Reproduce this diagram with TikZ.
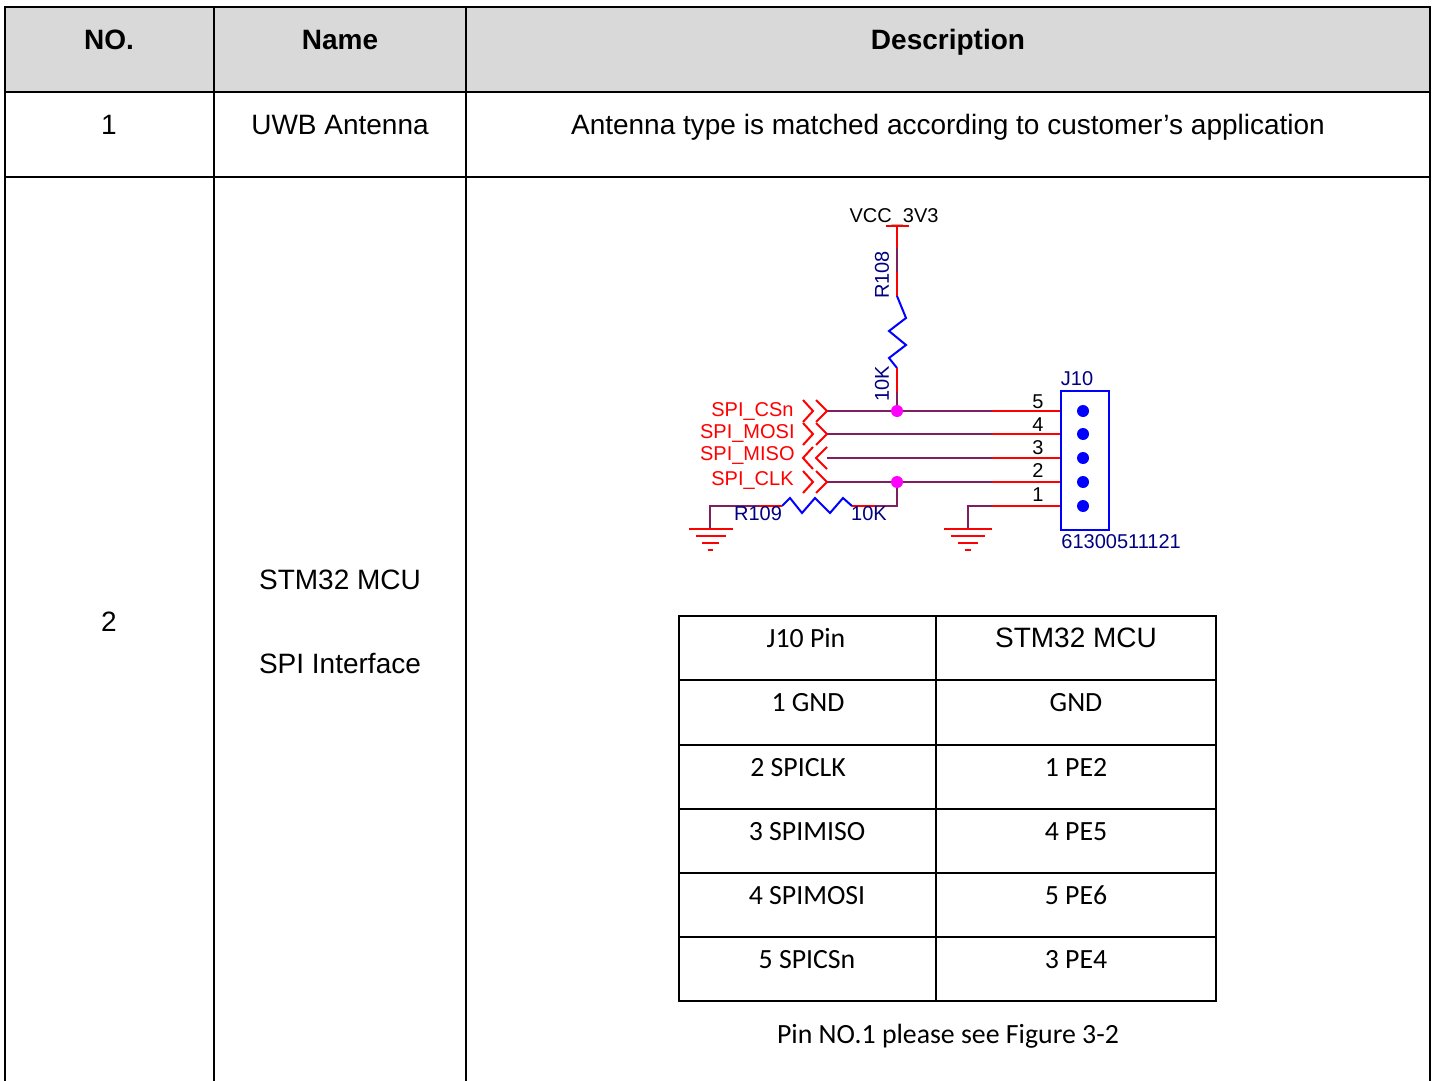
\documentclass[tikz,border=0pt]{standalone}
\usepackage{fontspec}
\setmainfont{Liberation Sans}
\newfontfamily\carlito{Carlito}
\definecolor{hdrgray}{HTML}{D9D9D9}
\definecolor{wirepur}{HTML}{7F1F5F}
\definecolor{schred}{HTML}{FF0000}
\definecolor{schblue}{HTML}{0000FF}
\definecolor{schnavy}{HTML}{000080}
\definecolor{schmag}{HTML}{FF00FF}
\newcommand\fmain{\fontsize{14}{17}\selectfont}
\newcommand\fsch{\fontsize{10}{12}\selectfont}
\newcommand\ftab{\carlito\fontsize{13.9}{16}\selectfont}
\begin{document}
\begin{tikzpicture}[x=0.5pt,y=-0.5pt,
  gridline/.style={line width=1.3pt,black},
  tabline/.style={line width=1pt,black},
  txt/.style={anchor=base,inner sep=0pt,font=\fmain},
  btxt/.style={anchor=base,inner sep=0pt,font=\fmain\bfseries},
  ttxt/.style={anchor=base,inner sep=0pt,font=\ftab},
  schlbl/.style={anchor=base,inner sep=0pt,font=\fsch},
  wirep/.style={line width=1pt,wirepur},
  wirer/.style={line width=1pt,schred},
  resz/.style={line width=1pt,schblue,line join=miter},
  portz/.style={line width=1pt,schred},
  jdot/.style={fill=schmag,draw=none},
  pdot/.style={fill=schblue,draw=none}]
\useasboundingbox (0,0) rectangle (1436,1081);
% ---------- outer table ----------
\fill[hdrgray] (5,7) rectangle (1430,92);
\draw[gridline] (5,1090) -- (5,7) -- (1430,7) -- (1430,1090);
\draw[gridline] (5,92) -- (1430,92);
\draw[gridline] (5,177) -- (1430,177);
\draw[gridline] (214,7) -- (214,1090);
\draw[gridline] (466,7) -- (466,1090);
\node[btxt] (hno) at (109,50) {NO.};
\node[btxt] (hname) at (340,50) {Name};
\node[btxt] (hdesc) at (948,50) {Description};
\node[txt] (r1no) at (109,135) {1};
\node[txt] (r1name) at (340,135) {UWB Antenna};
\node[txt] (r1desc) at (948,135) {Antenna type is matched according to customer’s application};
\node[txt] (r2no) at (109,631) {2};
\node[txt] (r2name) at (340,589) {STM32 MCU};
\node[txt] (r2name2) at (340,673) {SPI Interface};
% ---------- schematic ----------
\node[schlbl,black] (vcclbl) at (894,222) {VCC\_3V3};
\coordinate (vcc) at (897,226);
\coordinate (r8top) at (897,296);
\coordinate (r8bot) at (897,368);
\coordinate (j5) at (897,411);
\draw[wirer] (886,226) -- (909,226);
\draw[wirer] (vcc) -- (r8top);
\draw[wirep] (897,248) -- (897,272);
\draw[resz] (r8top) -- (906,318) -- (889,331) -- (906,345) -- (889,358) -- (r8bot);
\draw[wirer] (r8bot) -- (897,392);
\draw[wirep] (897,392) -- (j5);
\node[schlbl,schnavy,rotate=90,anchor=center] (r108lbl) at (882,275) {R108};
\node[schlbl,schnavy,rotate=90,anchor=center] (r108val) at (882,384) {10K};
% connector J10
\node[draw=schblue,line width=1pt,minimum width=24pt,minimum height=69.5pt,inner sep=0pt,anchor=north west] (j10) at (1060,390) {};
\node[schlbl,schnavy] (j10lbl) at (1077,385) {J10};
\node[schlbl,schnavy,anchor=base west] (j10pn) at (1061,548) {61300511121};
\foreach \n/\y/\ly in {5/411/408,4/434/431,3/458/454,2/482/477,1/506/501}{
  \fill[pdot] (1083,\y) circle[radius=3pt];
  \coordinate (p\n) at (1060,\y);
  \coordinate (m\n) at (992,\y);
  \draw[wirer] (p\n) -- (m\n);
  \node[schlbl,black] (pn\n) at (1038,\ly) {\n};
}
% signal wires
\foreach \n in {5,4,3,2}{ \draw[wirep] (m\n) -- (827,0 |- m\n); }
% ports
\foreach \y in {411,434,482}{
  \draw[portz] (803,\y-11) -- (813,\y) -- (803,\y+11);
  \draw[portz] (816,\y-11) -- (827,\y) -- (816,\y+11);
}
\draw[portz] (813,447) -- (803,458) -- (813,469);
\draw[portz] (827,447) -- (816,458) -- (827,469);
\node[schlbl,schred,anchor=base east] (lcs) at (794,416) {SPI\_CSn};
\node[schlbl,schred,anchor=base east] (lmosi) at (795,438) {SPI\_MOSI};
\node[schlbl,schred,anchor=base east] (lmiso) at (795,460) {SPI\_MISO};
\node[schlbl,schred,anchor=base east] (lclk) at (794,485) {SPI\_CLK};
% pin1 to ground
\coordinate (g2) at (968,529);
\draw[wirep] (m1) -- (968,506) -- (g2);
\draw[wirer] (944,529) -- (992,529) (951,536) -- (985,536) (958,543) -- (978,543) (965,550) -- (971,550);
% R109 pull-down
\coordinate (j2) at (897,482);
\coordinate (r9r) at (852,506);
\coordinate (r9l) at (782,506);
\coordinate (g1) at (710,529);
\draw[wirep] (j2) -- (897,506) -- (875,506);
\draw[wirer] (875,506) -- (r9r);
\draw[resz] (r9r) -- (843,498) -- (830,513) -- (815,498) -- (802,513) -- (790,498) -- (r9l);
\draw[wirer] (r9l) -- (760,506);
\draw[wirep] (760,506) -- (710,506) -- (g1);
\draw[wirer] (689,529) -- (733,529) (696,536) -- (726,536) (702,543) -- (719,543) (708,550) -- (713,550);
\node[schlbl,schnavy] (r109lbl) at (758,520) {R109};
\node[schlbl,schnavy] (r109val) at (869,520) {10K};
\fill[jdot] (j5) circle[radius=3pt];
\fill[jdot] (j2) circle[radius=3pt];
% ---------- inner table ----------
\draw[tabline] (679,616) rectangle (1216,1001);
\draw[tabline] (936,616) -- (936,1001);
\foreach \y in {680,745,809,873,937}{ \draw[tabline] (679,\y) -- (1216,\y); }
\node[ttxt] (t0a) at (806,647) {J10 Pin};
\node[anchor=base,inner sep=0pt,font=\fmain] (t0b) at (1076,647) {STM32 MCU};
\node[ttxt] (t1a) at (808,711) {1 GND};
\node[ttxt] (t1b) at (1076,711) {GND};
\node[ttxt] (t2a) at (798,776) {2 SPICLK};
\node[ttxt] (t2b) at (1076,776) {1 PE2};
\node[ttxt] (t3a) at (807,840) {3 SPIMISO};
\node[ttxt] (t3b) at (1076,840) {4 PE5};
\node[ttxt] (t4a) at (807,904) {4 SPIMOSI};
\node[ttxt] (t4b) at (1076,904) {5 PE6};
\node[ttxt] (t5a) at (807,968) {5 SPICSn};
\node[ttxt] (t5b) at (1076,968) {3 PE4};
\node[ttxt] (note) at (948,1043) {Pin NO.1 please see Figure 3-2};
\end{tikzpicture}
\end{document}
